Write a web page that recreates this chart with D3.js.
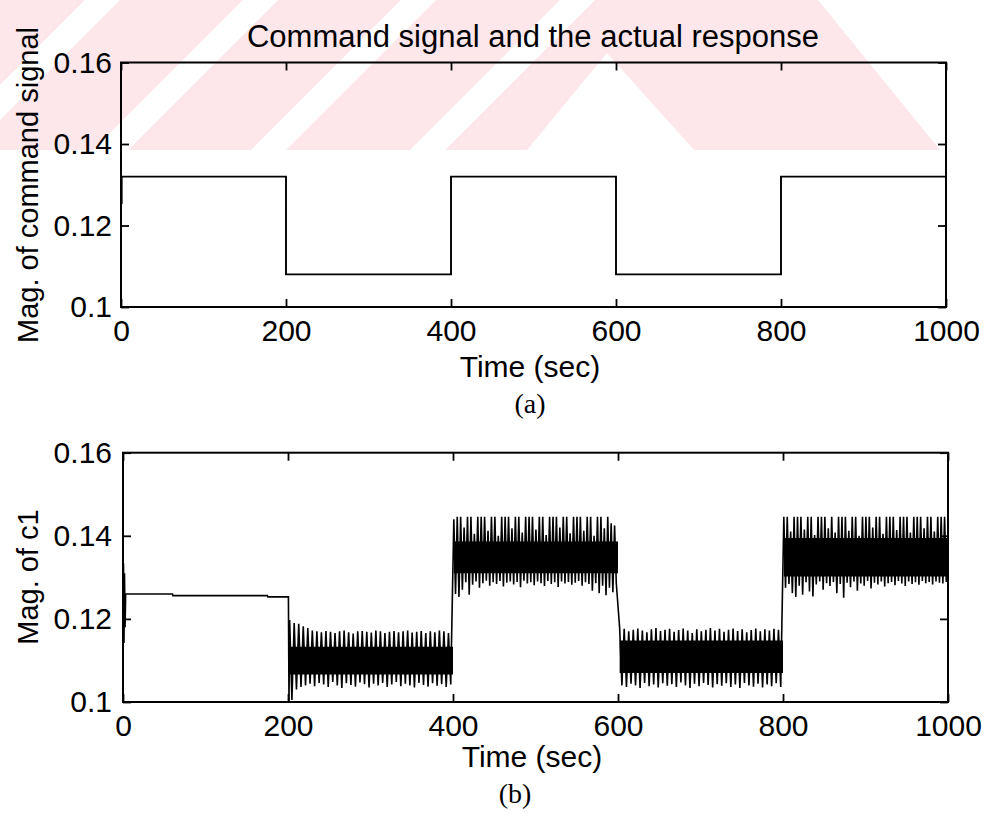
<!DOCTYPE html>
<html><head><meta charset="utf-8">
<script src="https://cdn.jsdelivr.net/npm/d3@7"></script>
<style>
body{margin:0;background:#fff}
svg text{font-family:"Liberation Sans",Arial,Helvetica,sans-serif;fill:#000}
</style>
</head><body>
<svg id="chart" width="988" height="814"></svg>
<script>
// ---------------- data ----------------
const xTicks = [0, 200, 400, 600, 800, 1000];
const yTicks = [0.1, 0.12, 0.14, 0.16];
const yTickLabels = ["0.1", "0.12", "0.14", "0.16"];

// (a) command signal (step after)
const cmdTimes  = [0, 0.8, 200, 400, 600, 800, 1000];
const cmdValues = [0.1255, 0.132, 0.108, 0.132, 0.108, 0.132, 0.132];

// (b) response c1 : initial quiet part
const flatTimes  = [0, 0.6, 1.2, 1.8, 2.5, 3.2, 60, 60.5, 175, 175.5, 200.5, 201.2];
const flatValues = [0.1260, 0.1334, 0.1142, 0.1310, 0.1180, 0.1260, 0.1260, 0.1256, 0.1256, 0.1253, 0.1253, 0.1000];

// oscillating segments
const segStart = [202, 401, 602, 801];
const segEnd   = [400, 600, 800, 1000];
const coreLow  = [0.1066, 0.1310, 0.1070, 0.1302];
const coreHigh = [0.1133, 0.1386, 0.1148, 0.1395];

const hiA = [0.1197,0.1190,0.1188,0.1182,0.1178,0.1172,0.1170,0.1168,0.1171,0.1169,0.1166,0.1170,0.1172,0.1168,0.1165,0.1170,0.1171,0.1169,0.1167,0.1172,0.1170,0.1166,0.1169,0.1171,0.1168,0.1170,0.1172,0.1167,0.1169,0.1171,0.1166,0.1170,0.1168,0.1172,0.1170,0.1166];
const loA = [0.1005,0.1030,0.1036,0.1040,0.1044,0.1038,0.1046,0.1042,0.1036,0.1048,0.1040,0.1034,0.1045,0.1041,0.1037,0.1047,0.1043,0.1035,0.1044,0.1040,0.1046,0.1036,0.1042,0.1048,0.1038,0.1044,0.1040,0.1035,0.1046,0.1041,0.1037,0.1045,0.1039,0.1043,0.1036,0.1042];
const hiB = [0.1440,0.1446,0.1446,0.1420,0.1446,0.1446,0.1405,0.1446,0.1446,0.1446,0.1412,0.1446,0.1446,0.1400,0.1446,0.1446,0.1446,0.1418,0.1446,0.1446,0.1408,0.1446,0.1446,0.1446,0.1415,0.1446,0.1446,0.1402,0.1446,0.1446,0.1446,0.1420,0.1446,0.1446,0.1406,0.1446,0.1446,0.1446,0.1412,0.1446,0.1446,0.1400,0.1446,0.1446,0.1418,0.1446,0.1430,0.1425];
const loB = [0.1260,0.1253,0.1270,0.1288,0.1258,0.1282,0.1290,0.1275,0.1286,0.1292,0.1280,0.1288,0.1284,0.1291,0.1278,0.1287,0.1290,0.1283,0.1289,0.1276,0.1292,0.1285,0.1288,0.1281,0.1290,0.1286,0.1279,0.1291,0.1284,0.1288,0.1277,0.1290,0.1285,0.1289,0.1282,0.1287,0.1291,0.1280,0.1288,0.1284,0.1268,0.1286,0.1262,0.1280,0.1257,0.1275,0.1264,0.1285];
const hiC = [0.1178,0.1176,0.1170,0.1174,0.1177,0.1172,0.1168,0.1175,0.1178,0.1171,0.1174,0.1176,0.1169,0.1173,0.1177,0.1172,0.1166,0.1175,0.1170,0.1174,0.1178,0.1172,0.1176,0.1169,0.1174,0.1177,0.1171,0.1175,0.1168,0.1173,0.1177,0.1170,0.1175,0.1172,0.1176,0.1174];
const loC = [0.1040,0.1036,0.1044,0.1040,0.1034,0.1046,0.1038,0.1042,0.1035,0.1045,0.1039,0.1043,0.1036,0.1047,0.1040,0.1034,0.1044,0.1038,0.1046,0.1041,0.1035,0.1043,0.1039,0.1045,0.1036,0.1042,0.1034,0.1046,0.1040,0.1037,0.1044,0.1035,0.1042,0.1038,0.1045,0.1036];
const hiD = [0.1446,0.1446,0.1410,0.1446,0.1446,0.1446,0.1415,0.1446,0.1446,0.1402,0.1446,0.1446,0.1446,0.1418,0.1446,0.1408,0.1446,0.1446,0.1446,0.1412,0.1446,0.1446,0.1400,0.1446,0.1446,0.1446,0.1420,0.1446,0.1446,0.1405,0.1446,0.1446,0.1446,0.1414,0.1446,0.1446,0.1446,0.1408,0.1446,0.1446,0.1446,0.1418,0.1446,0.1446,0.1410,0.1446,0.1446,0.1446];
const loD = [0.1275,0.1284,0.1262,0.1253,0.1280,0.1258,0.1288,0.1266,0.1254,0.1283,0.1290,0.1270,0.1286,0.1279,0.1289,0.1262,0.1284,0.1251,0.1287,0.1276,0.1290,0.1268,0.1285,0.1280,0.1291,0.1273,0.1287,0.1283,0.1290,0.1278,0.1286,0.1289,0.1281,0.1291,0.1285,0.1279,0.1290,0.1284,0.1288,0.1282,0.1291,0.1286,0.1289,0.1283,0.1290,0.1287,0.1285,0.1289];
const segHi = [hiA, hiB, hiC, hiD];
const segLo = [loA, loB, loC, loD];

// ---------------- drawing ----------------
const svg = d3.select("#chart");

// faint watermark (decoration of the scanned page)
const wm = svg.append("g");
wm.append("rect").attr("x",0).attr("y",0).attr("width",988).attr("height",150).attr("fill","#fde7eb");
const gapsSlash = [-65, 93, 251, 410];
gapsSlash.forEach(b => {
  wm.append("polygon").attr("fill","#fff")
    .attr("points",`${b},150 ${b+35},150 ${b+185},0 ${b+150},0`);
});
wm.append("polygon").attr("fill","#fff").attr("points","527,150 607,53 694,150");
wm.append("polygon").attr("fill","#fff").attr("points","818,0 988,0 988,150 940,150");

function drawAxes(g, x, y, labelPad) {
  const [x0, x1] = x.range();
  const [yb, yt] = y.range();
  g.append("g").attr("transform",`translate(0,${yb})`)
    .call(d3.axisBottom(x).tickValues(xTicks).tickSize(-8).tickSizeOuter(0).tickPadding(13).tickFormat(d3.format("d")))
    .call(s => s.selectAll("text").attr("font-size",30).attr("font-family","Liberation Sans, Arial, sans-serif"));
  g.append("g").attr("transform",`translate(0,${yt})`)
    .call(d3.axisTop(x).tickValues(xTicks).tickSize(-8).tickSizeOuter(0).tickFormat(""));
  g.append("g").attr("transform",`translate(${x0},0)`)
    .call(d3.axisLeft(y).tickValues(yTicks).tickSize(-8).tickSizeOuter(0).tickPadding(labelPad)
      .tickFormat((d,i) => yTickLabels[i]))
    .call(s => s.selectAll("text").attr("font-size",30).attr("font-family","Liberation Sans, Arial, sans-serif"));
  g.append("g").attr("transform",`translate(${x1},0)`)
    .call(d3.axisRight(y).tickValues(yTicks).tickSize(-8).tickSizeOuter(0).tickFormat(""));
  g.selectAll(".domain").remove();
  g.selectAll(".tick line").attr("stroke","#000").attr("stroke-width",1.8);
  g.append("rect").attr("x",x0).attr("y",yt).attr("width",x1-x0).attr("height",yb-yt)
    .attr("fill","none").attr("stroke","#000").attr("stroke-width",2);
}

// ---- plot (a) ----
const xA = d3.scaleLinear().domain([0,1000]).range([121,946]);
const yA = d3.scaleLinear().domain([0.1,0.16]).range([307,62.5]);
const gA = svg.append("g");
const cmdData = cmdTimes.map((t,i)=>[t,cmdValues[i]]);
gA.append("path").datum(cmdData)
  .attr("fill","none").attr("stroke","#000").attr("stroke-width",1.9)
  .attr("d", d3.line().x(d=>xA(d[0])).y(d=>yA(d[1])).curve(d3.curveStepAfter));
drawAxes(gA, xA, yA, 9);

// ---- plot (b) ----
const xB = d3.scaleLinear().domain([0,1000]).range([123,948]);
const yB = d3.scaleLinear().domain([0.1,0.16]).range([702,452.7]);
const gB = svg.append("g");
// solid cores of the fast oscillation
segStart.forEach((s,k)=>{
  const band = [[s,coreLow[k],coreHigh[k]],[segEnd[k],coreLow[k],coreHigh[k]]];
  gB.append("path").datum(band).attr("fill","#000")
    .attr("d", d3.area().x(d=>xB(d[0])).y0(d=>yB(d[1])).y1(d=>yB(d[2])));
});
// response line
const resp = flatTimes.map((t,i)=>[t,flatValues[i]]);
segStart.forEach((s,k)=>{
  const hi = segHi[k], lo = segLo[k], n = hi.length, dt = (segEnd[k]-s)/n;
  for (let i=0;i<n;i++){
    resp.push([s+i*dt, hi[i]]);
    resp.push([s+(i+0.5)*dt, lo[i]]);
  }
});
gB.append("path").datum(resp)
  .attr("fill","none").attr("stroke","#000").attr("stroke-width",1.6).attr("stroke-linejoin","miter")
  .attr("d", d3.line().x(d=>xB(d[0])).y(d=>yB(d[1])));
drawAxes(gB, xB, yB, 11);

// ---- texts ----
svg.append("text").attr("x",533).attr("y",47).attr("text-anchor","middle").attr("font-size",31)
  .text("Command signal and the actual response");
svg.append("text").attr("transform","translate(38,185) rotate(-90)").attr("text-anchor","middle").attr("font-size",29)
  .text("Mag. of command signal");
svg.append("text").attr("transform","translate(38,577) rotate(-90)").attr("text-anchor","middle").attr("font-size",29)
  .text("Mag. of c1");
svg.append("text").attr("x",530).attr("y",377).attr("text-anchor","middle").attr("font-size",30).text("Time (sec)");
svg.append("text").attr("x",532).attr("y",767).attr("text-anchor","middle").attr("font-size",30).text("Time (sec)");
svg.append("text").attr("x",530).attr("y",413).attr("text-anchor","middle").attr("font-size",28)
  .style("font-family","'Liberation Serif','Times New Roman',serif").text("(a)");
svg.append("text").attr("x",515).attr("y",803).attr("text-anchor","middle").attr("font-size",28)
  .style("font-family","'Liberation Serif','Times New Roman',serif").text("(b)");
</script>
</body></html>
